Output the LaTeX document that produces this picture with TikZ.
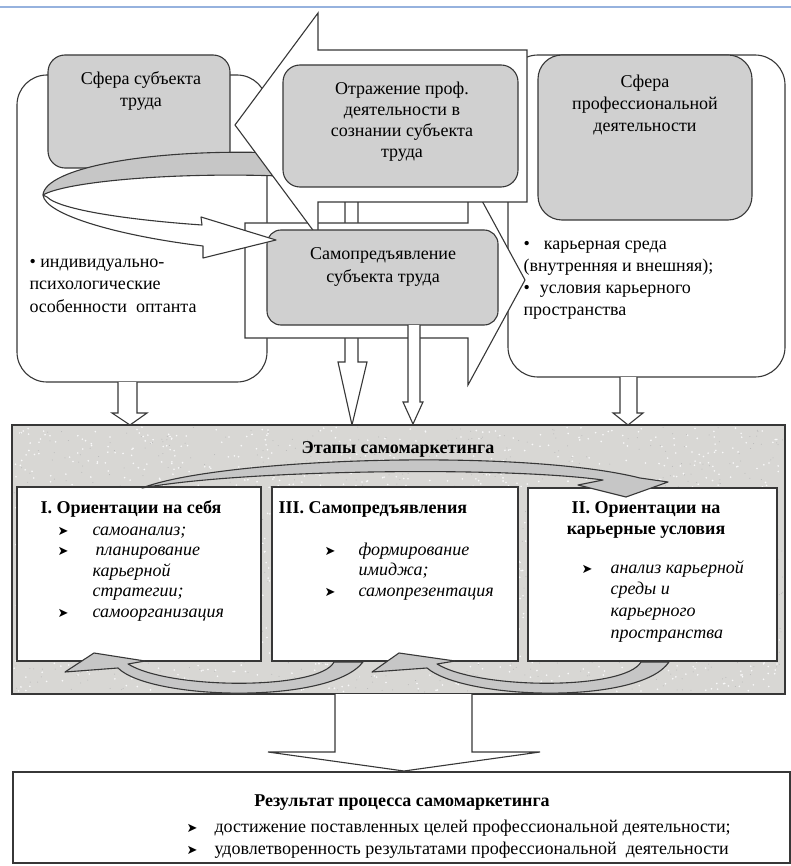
\documentclass[tikz,border=0pt]{standalone}
\usepackage{fontspec}
\setmainfont{Liberation Serif}
\newfontfamily\markfont{DejaVu Sans}
\usetikzlibrary{arrows.meta}
\usetikzlibrary{calc,positioning}

\definecolor{boxgray}{RGB}{208,208,208}
\definecolor{bandgray}{RGB}{198,198,198}
\definecolor{panelgray}{RGB}{216,215,212}
\definecolor{edgegray}{RGB}{55,55,55}
\definecolor{ruleblue}{RGB}{150,178,222}

\newcommand{\txtrows}[2][c]{{\setlength{\tabcolsep}{0pt}\begin{tabular}[t]{@{}#1@{}}#2\end{tabular}}}
\newcommand{\mk}{{\markfont\upshape\fontsize{13}{13}\selectfont ➤}}

\begin{document}
\begin{tikzpicture}[x=1pt, y=-1pt, line width=1.1pt,
    outerbox/.style={draw=edgegray, fill=white, rounded corners=30pt},
    graybox/.style={draw=edgegray, fill=boxgray, rounded corners=17pt},
    hollow/.style={draw=edgegray, fill=white, line join=miter},
    band/.style={draw=edgegray, fill=bandgray, line join=round},
    stagebox/.style={draw=edgegray, fill=white},
    txt/.style={inner sep=0pt, text=black, font=\fontsize{18}{22}\selectfont},
    itm/.style={txt, font=\fontsize{18}{20.5}\selectfont\itshape},
    head/.style={txt, font=\fontsize{18}{21.5}\selectfont\bfseries}]

    \useasboundingbox (0,0) rectangle (791,866);
    \draw[ruleblue, line width=1.2pt] (0,7) coordinate (ruleL) -- (791,7) coordinate (ruleR);

    % the two spheres
    \draw[outerbox] (17,75) rectangle (267,382);
    \draw[outerbox] (508,55) rectangle (785,377);
    \draw[graybox] (48,55) rectangle (230,168);
    \draw[graybox, rounded corners=24pt] (538,55) rectangle (752,220);

    % back of the turning arrow
    \draw[band] (280,153) .. controls (150,148) and (45,168) .. (43,195)
        .. controls (65,182) and (170,172) .. (280,176) -- cycle;

    \draw[hollow] (345,202) -- (345,362) -- (338,362) -- (352,425) -- (367,362) -- (358,362) -- (358,202);

    % self-presentation arrow and reflection arrow
    \draw[hollow] (245,223) -- (468,223) -- (468,175) -- (525,280) -- (468,385) -- (468,338) -- (245,338) -- cycle;
    \draw[hollow] (235,125) -- (318,13) -- (318,50) -- (527,50) -- (527,202) -- (318,202) -- (318,237) -- cycle;
    \draw[graybox] (283,65) rectangle (518,187);
    \draw[graybox, rounded corners=14pt] (267,230) rectangle (498,325);

    % front of the turning arrow
    \draw[hollow, line join=round] (43,195) .. controls (45,215) and (120,236) .. (203,246)
        -- (203,258) -- (276,240) -- (201,217) -- (202,225)
        .. controls (130,220) and (60,210) .. (47,197) -- cycle;

    % stages
    \fill[panelgray] (12,425) rectangle (785,694);
    \pgfmathsetseed{11}
    \foreach \i in {1,...,1600}
        \fill[white!85!panelgray] ({14+769*rnd},{427+265*rnd}) circle (0.9pt);
    \foreach \i in {1,...,1000}
        \fill[black!28] ({14+769*rnd},{427+265*rnd}) circle (0.5pt);
    \draw[edgegray] (12,425) rectangle (785,694);

    \draw[hollow] (408,325) -- (408,402) -- (403,402) -- (413,424) -- (423,402) -- (420,402) -- (420,325);
    \draw[hollow] (118,382) -- (118,413) -- (112,413) -- (130,425) -- (147,413) -- (137,413) -- (137,382);
    \draw[hollow] (620,377) -- (620,413) -- (613,413) -- (628,425) -- (643,413) -- (637,413) -- (637,377);

    \draw[stagebox] (17,487) rectangle (261,661);
    \draw[stagebox] (272,487) rectangle (518,661);
    \draw[stagebox] (528,488) rectangle (777,661);

    \draw[band] (142,488) .. controls (220,458) and (520,448) .. (640,478) -- (668,482) -- (626,497)
        -- (578,485) -- (603,480) .. controls (500,466) and (240,470) .. (142,488) -- cycle;
    \draw[band] (363,662) .. controls (330,705) and (150,700) .. (118,668) -- (65,672) -- (94,653)
        -- (145,661) -- (128,664) .. controls (170,690) and (320,690) .. (334,662) -- cycle;
    \draw[band] (669,662) .. controls (640,705) and (465,700) .. (427,668) -- (372,672) -- (399,653)
        -- (455,661) -- (437,664) .. controls (480,690) and (625,690) .. (641,662) -- cycle;

    % result
    \draw[stagebox] (13,772) rectangle (790,863);
    \draw[hollow] (335,694) -- (335,752) -- (268,752) -- (404,771) -- (540,752) -- (472,752) -- (472,694);

    % texts
    \node[txt, anchor=base] (subjtitle) at (141,85) {\txtrows{Сфера субъекта\\труда}};
    \node[txt, anchor=base west] (subjtraits) at (29,268) {\txtrows[l]{• индивидуально-\\психологические\\особенности\ \ оптанта}};
    \node[txt, anchor=base] (proftitle) at (645,88) {\txtrows{Сфера\\профессиональной\\деятельности}};
    \node[txt, anchor=base west] (profenv) at (523,250) {\txtrows[l]{•\hspace{14pt}карьерная среда\\(внутренняя и внешняя);\\•\hspace{10pt}условия карьерного\\пространства}};
    \node[txt, anchor=base, font=\fontsize{18}{21}\selectfont] (reflect) at (402,95) {\txtrows{Отражение проф.\\деятельности в\\сознании субъекта\\труда}};
    \node[txt, anchor=base] (selfpres) at (383,260) {\txtrows{Самопредъявление\\субъекта труда}};

    \node[head, anchor=base] (stagetitle) at (398,453) {Этапы самомаркетинга};
    \node[head, anchor=base west] (selfhead) at (40,513) {I. Ориентации на себя};
    \node[itm, anchor=base west] (selfitems) at (57,535) {\txtrows[p{35pt}l]{\mk & самоанализ;\\ \mk & \,планирование\\ & карьерной\\ & стратегии;\\ \mk & самоорганизация}};
    \node[head, anchor=base west] (presenthead) at (278,513) {III. Самопредъявления};
    \node[itm, anchor=base west] (presentitems) at (324,555) {\txtrows[p{34pt}l]{\mk & формирование\\ & имиджа;\\ \mk & самопрезентация}};
    \node[head, anchor=base] (careerhead) at (646,513) {\txtrows{II. Ориентации на\\карьерные условия}};
    \node[itm, anchor=base west, font=\fontsize{18}{21.7}\selectfont\itshape] (careeritems) at (581,573) {\txtrows[p{29pt}l]{\mk & анализ карьерной\\ & среды и\\ & карьерного\\ & пространства}};

    \node[head, anchor=base] (resulttitle) at (402,806) {Результат процесса самомаркетинга};
    \node[txt, anchor=base west] (resultitems) at (186,832) {\txtrows[p{28pt}l]{\mk & достижение поставленных целей профессиональной деятельности;\\ \mk & удовлетворенность результатами профессиональной\ \ деятельности}};

\end{tikzpicture}
\end{document}
